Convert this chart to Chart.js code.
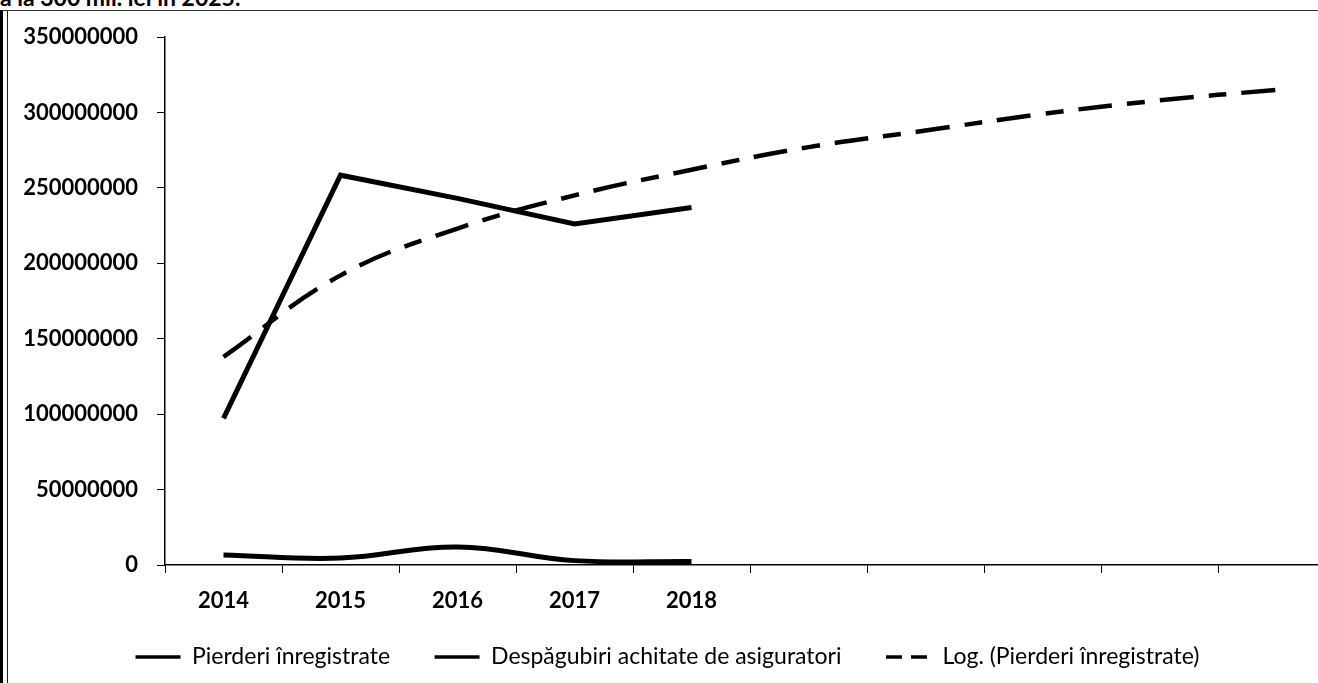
<!DOCTYPE html>
<html>
<head>
<meta charset="utf-8">
<script src="https://cdn.jsdelivr.net/npm/chart.js@4/dist/chart.umd.min.js"></script>
<style>
    body { margin: 0; background: #fff; overflow: hidden; width: 1318px; height: 683px; position: relative; }
    .cut { position: absolute; left: 0; top: -17px; font: bold 23px Lato, sans-serif; color: #000; white-space: nowrap; }
    .frame1 { position: absolute; left: 0; top: 10px; width: 2000px; height: 2000px; border-left: 3px solid #000; border-top: 1px solid #333; }
    .frame2 { position: absolute; left: 7px; top: 10px; width: 2000px; height: 2000px; border-left: 1px solid #222; }
    #wrap { position: absolute; left: 0; top: 0; width: 1340px; height: 683px; }
</style>
</head>
<body>
<div class="cut">ă la 300 mil. lei în 2025.</div>
<div class="frame1"></div>
<div class="frame2"></div>
<div id="wrap"><canvas id="lossChart"></canvas></div>
<script>
const years = ['2014', '2015', '2016', '2017', '2018', '', '', '', '', ''];
const pierderi = [97200000, 258400000, 243000000, 226000000, 237000000];
const despagubiri = [6600000, 4600000, 12000000, 2900000, 2300000];
const logPierderi = [138000000, 192000000, 223000000, 245000000, 262000000, 277000000, 288000000, 299000000, 308000000, 315000000];
const seriesNames = ['Pierderi înregistrate', 'Despăgubiri achitate de asiguratori', 'Log. (Pierderi înregistrate)'];

Chart.defaults.color = '#000';
Chart.defaults.font.family = 'Lato, sans-serif';

function lossChart() {
    let ctx = document.getElementById('lossChart');
    let lossChart = new Chart(ctx, {
        type: 'line',
        data: {
            labels: years,
            datasets: [{
                label: seriesNames[0],
                data: pierderi,
                borderColor: '#000',
                borderWidth: 5,
                pointRadius: 0,
                tension: 0
            }, {
                label: seriesNames[1],
                data: despagubiri,
                borderColor: '#000',
                borderWidth: 5,
                pointRadius: 0,
                tension: 0.4
            }, {
                label: seriesNames[2],
                data: logPierderi,
                borderColor: '#000',
                borderWidth: 4.5,
                borderDash: [34, 15, 18, 15],
                pointRadius: 0,
                tension: 0.4
            }]
        },
        options: {
            responsive: true,
            maintainAspectRatio: false,
            animation: false,
            layout: {
                padding: { top: 37, right: 5, bottom: 4.5, left: 0 }
            },
            plugins: {
                legend: {
                    position: 'bottom',
                    labels: {
                        usePointStyle: true,
                        pointStyle: 'line',
                        pointStyleWidth: 45,
                        padding: 10,
                        font: { size: 23 },
                        generateLabels: function (chart) {
                            let items = Chart.defaults.plugins.legend.labels.generateLabels(chart);
                            items.forEach(function (item, i) {
                                item.lineWidth = 3.5;
                                item.lineDash = i === 2 ? [16, 9] : [];
                                // wider gap after the first two entries
                                if (i < 2) item.text = item.text + '\u2002\u2002\u2002';
                            });
                            return items;
                        }
                    }
                },
                tooltip: { enabled: false }
            },
            scales: {
                x: {
                    offset: true,
                    grid: { offset: true, drawOnChartArea: false, color: '#000', tickLength: 8 },
                    border: { color: '#000', width: 1.5 },
                    ticks: { maxRotation: 0, autoSkip: false, padding: 15, font: { size: 22, weight: 'bold' } },
                    afterFit: function (scale) { scale.height = 70.5; }
                },
                y: {
                    min: 0,
                    max: 350000000,
                    grid: { drawOnChartArea: false, color: '#000', tickLength: 8 },
                    border: { color: '#000', width: 1.5 },
                    ticks: {
                        stepSize: 50000000,
                        padding: 19,
                        font: { size: 22, weight: 'bold' },
                        callback: function (v) { return String(v); }
                    },
                    afterFit: function (scale) { scale.width = 165; }
                }
            }
        }
    });
}

lossChart();
</script>
</body>
</html>
